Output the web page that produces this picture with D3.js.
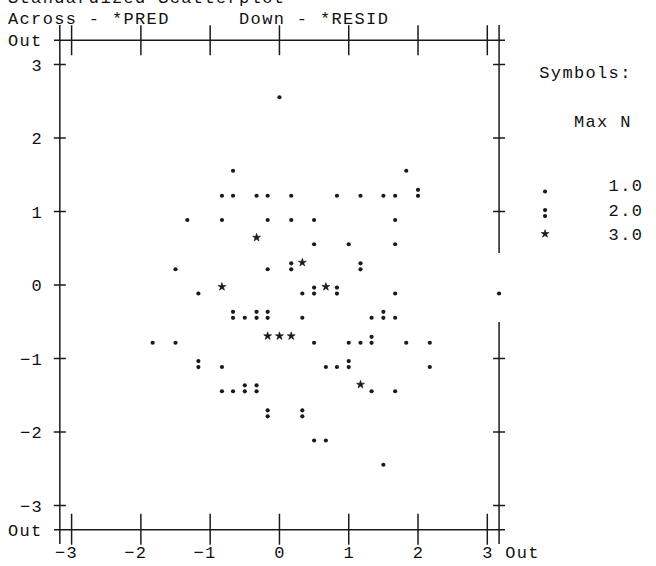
<!DOCTYPE html>
<html><head><meta charset="utf-8">
<script src="https://cdn.jsdelivr.net/npm/d3@7"></script>
<style>
html,body{margin:0;padding:0;background:#fff;}
svg{display:block;}
text{font-family:"Courier New","Liberation Mono",monospace;font-size:17px;fill:#111;letter-spacing:1.35px;white-space:pre;}
</style></head><body>
<svg id="chart" width="656" height="566"></svg>
<script>
// ---------- data ----------
const titleText = "Standardized Scatterplot";
const captionText = "Across - *PRED      Down - *RESID";
const xTicks = [-3, -2, -1, 0, 1, 2, 3];
const yTicks = [3, 2, 1, 0, -1, -2, -3];
const legendCounts = [1, 2, 3];
const legendLabels = ["1.0", "2.0", "3.0"];

// one entry per plotted cell: predicted (across), residual (down), N in the cell
const predicted = [
  0,
  -0.67, 1.83,
  -0.83, -0.67, -0.33, -0.17, 0.17, 0.83, 1.17, 1.5, 1.67, 2.0,
  -1.33, -0.83, -0.17, 0.17, 0.5, 1.67,
  -0.33, 0.5, 1.0, 1.67,
  -1.5, -0.17, 0.17, 0.33, 1.17,
  -1.17, -0.83, 0.33, 0.5, 0.67, 0.83, 1.67, 3.4,
  -0.67, -0.5, -0.33, -0.17, 0.33, 1.33, 1.5, 1.67,
  -1.83, -1.5, -0.17, 0, 0.17, 0.5, 1.0, 1.17, 1.33, 1.83, 2.17,
  -1.17, -0.83, 0.67, 0.83, 1.0, 2.17,
  -0.83, -0.67, -0.5, -0.33, 1.17, 1.33, 1.67,
  -0.17, 0.33,
  0.5, 0.67,
  1.5
];
const residual = [
  2.67,
  1.67, 1.67,
  1.33, 1.33, 1.33, 1.33, 1.33, 1.33, 1.33, 1.33, 1.33, 1.33,
  1.0, 1.0, 1.0, 1.0, 1.0, 1.0,
  0.67, 0.67, 0.67, 0.67,
  0.33, 0.33, 0.33, 0.33, 0.33,
  0, 0, 0, 0, 0, 0, 0, 0,
  -0.33, -0.33, -0.33, -0.33, -0.33, -0.33, -0.33, -0.33,
  -0.67, -0.67, -0.67, -0.67, -0.67, -0.67, -0.67, -0.67, -0.67, -0.67, -0.67,
  -1.0, -1.0, -1.0, -1.0, -1.0, -1.0,
  -1.33, -1.33, -1.33, -1.33, -1.33, -1.33, -1.33,
  -1.67, -1.67,
  -2.0, -2.0,
  -2.33
];
const cellCount = [
  1,
  1, 1,
  1, 1, 1, 1, 1, 1, 1, 1, 1, 2,
  1, 1, 1, 1, 1, 1,
  3, 1, 1, 1,
  1, 1, 2, 3, 2,
  1, 3, 1, 2, 3, 2, 1, 1,
  2, 1, 2, 2, 1, 1, 2, 1,
  1, 1, 3, 3, 3, 1, 1, 1, 2, 1, 1,
  2, 1, 1, 1, 2, 1,
  1, 1, 2, 2, 3, 1, 1,
  2, 2,
  1, 1,
  1
];

// ---------- layout ----------
const COL = 11.55;           // width of one character cell
const OUT_X = 3.17, OUT_Y = 3.33;
const svg = d3.select("#chart");
const x = d3.scaleLinear().domain([-3, 3]).range([71.6, 487.3]);
const y = d3.scaleLinear().domain([-3, 3]).range([505.5, 64.5]);
const xL = x(-OUT_X), xR = x(OUT_X), yT = y(OUT_Y), yB = y(-OUT_Y);
const ink = "#1a1a1a";

const pts = predicted.map((p, i) => ({
  px: p, py: residual[i], n: cellCount[i],
  cx: x(Math.max(-OUT_X, Math.min(OUT_X, p))),
  cy: y(Math.max(-OUT_Y, Math.min(OUT_Y, residual[i]))),
  outR: p > 3
}));

// ---------- text ----------
svg.append("text").attr("x", 8).attr("y", 3).text(titleText);
svg.append("text").attr("x", 8).attr("y", 24).attr("xml:space", "preserve").text(captionText);
svg.append("text").attr("x", 8).attr("y", yT + 6).text("Out");
svg.append("text").attr("x", 8).attr("y", yB + 6).text("Out");

const fmt = v => (v < 0 ? "\u2212" : "") + Math.abs(v);
// y labels: last char in column two cells left of axis
svg.append("g").selectAll("text").data(yTicks).join("text")
  .attr("x", d => xL - 2 * COL - COL / 2 - (fmt(d).length - 1) * COL + 0.6)
  .attr("y", d => y(d) + 6)
  .text(d => fmt(d));
// x labels: last char centred under tick
svg.append("g").selectAll("text").data(xTicks).join("text")
  .attr("x", d => x(d) - COL / 2 - (fmt(d).length - 1) * COL + 0.6)
  .attr("y", 558)
  .text(d => fmt(d));
svg.append("text").attr("x", x(3) - COL / 2 + 2 * COL + 0.6).attr("y", 558).text("Out");

// ---------- frame ----------
const g = svg.append("g").attr("stroke", ink).attr("stroke-width", 1.5).attr("fill", "none");
g.append("line").attr("x1", 54).attr("x2", 505).attr("y1", yT).attr("y2", yT);
g.append("line").attr("x1", 54).attr("x2", 505).attr("y1", yB).attr("y2", yB);
g.append("line").attr("x1", xL).attr("x2", xL).attr("y1", 25).attr("y2", 544);
// right out-line, broken where an out-of-range point sits on it
const gaps = pts.filter(d => d.outR).map(d => [d.cy - 32, d.cy + 37]).sort((a, b) => a[0] - b[0]);
let start = 25;
gaps.forEach(([a, b]) => {
  g.append("line").attr("x1", xR).attr("x2", xR).attr("y1", start).attr("y2", a);
  start = b;
});
g.append("line").attr("x1", xR).attr("x2", xR).attr("y1", start).attr("y2", 544);
// x ticks (top and bottom)
xTicks.forEach(t => {
  g.append("line").attr("x1", x(t)).attr("x2", x(t)).attr("y1", yT - 15).attr("y2", yT + 15);
  g.append("line").attr("x1", x(t)).attr("x2", x(t)).attr("y1", yB - 16).attr("y2", yB + 15);
});
// y ticks (left and right)
yTicks.forEach(t => {
  const yy = y(t);
  g.append("line").attr("x1", xL - 6).attr("x2", xL + 6).attr("y1", yy).attr("y2", yy);
  if (!gaps.some(([a, b]) => yy > a && yy < b))
    g.append("line").attr("x1", xR - 6).attr("x2", xR + 6).attr("y1", yy).attr("y2", yy);
});

// ---------- symbols ----------
const starPath = d3.symbol().type(d3.symbolStar).size(20)();
function drawSymbol(sel, cx, cy, n) {
  if (n === 1) {
    sel.append("circle").attr("cx", cx).attr("cy", cy + 8.5).attr("r", 2.1).attr("fill", ink);
  } else if (n === 2) {
    sel.append("circle").attr("cx", cx).attr("cy", cy + 2.6).attr("r", 2.1).attr("fill", ink);
    sel.append("circle").attr("cx", cx).attr("cy", cy + 8.6).attr("r", 2.1).attr("fill", ink);
  } else {
    sel.append("path").attr("d", starPath).attr("transform", `translate(${cx},${cy + 1.8})`)
      .attr("fill", ink).attr("stroke", ink).attr("stroke-width", 0.6);
  }
}
const pg = svg.append("g");
pts.forEach(d => drawSymbol(pg, d.cx, d.cy, d.n));

// ---------- legend ----------
const legX = 8 + 46 * COL;
svg.append("text").attr("x", legX).attr("y", 78).text("Symbols:");
svg.append("text").attr("x", 8 + 49 * COL).attr("y", 127).text("Max N");
const legRow = d3.scalePoint().domain(legendCounts).range([185, 234]);
const lg = svg.append("g");
legendCounts.forEach((n, i) => {
  drawSymbol(lg, legX + COL / 2, legRow(n) - 2, n);
  lg.append("text").attr("x", 8 + 52 * COL).attr("y", legRow(n) + 6).text(legendLabels[i]);
});
</script>
</body></html>
